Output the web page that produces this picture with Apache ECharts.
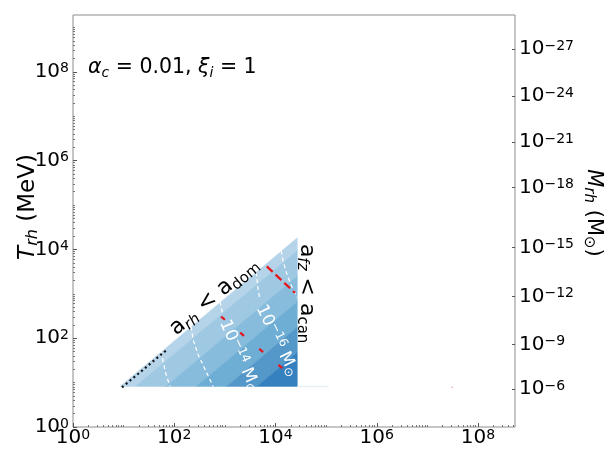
<!DOCTYPE html>
<html><head><meta charset="utf-8">
<script src="https://cdn.jsdelivr.net/npm/echarts@6/dist/echarts.min.js"></script>
<style>html,body{margin:0;padding:0;background:#fff}#c{width:607px;height:450px}</style>
</head><body><div id="c"></div>
<script>
// ---- axis ranges (log10 units) ----
const xLogMin = 0, xLogMax = 8.73;
const yLogMin = 0, yLogMax = 9.28;
const xMajorExp = [0, 2, 4, 6, 8];
const yMajorExp = [0, 2, 4, 6, 8];
// right axis: M_rh exponents and their positions on the T_rh axis (log10 MeV)
const mExp = [-27, -24, -21, -18, -15, -12, -9, -6];
const mPosLogT = [8.51, 7.45, 6.42, 5.39, 4.04, 2.94, 1.86, 0.85];

// ---- allowed region, filled bands (log10 units) ----
const regionBottomLogT = 0.915;
const regionRightLogX = 4.43;
const bandEdgeLogX = [0.93, 1.23, 1.83, 2.43, 3.03, 3.63, 4.43];   // where band edges meet the bottom edge
const bandEdgeLogT = [4.26, 3.973, 3.400, 2.826, 2.253, 1.680, 0.915]; // where band edges meet the right edge
const bandColors = ['#b6d4e9', '#9fc8e3', '#87bcdd', '#6eaed5', '#5398c9', '#3580be'];

// ---- mass contours (white dashed) ----
const contourA = [[4.111, 3.971], [4.150, 3.724], [4.229, 3.432], [4.328, 3.139], [4.427, 2.915]];
const contourB = [[3.617, 3.488], [3.656, 3.094], [3.686, 2.911]];
const contourC = [[2.905, 2.825], [2.945, 2.600], [2.955, 2.533]];
const contourD = [[2.332, 2.263], [2.372, 1.971], [2.470, 1.634], [2.609, 1.297], [2.767, 0.915]];
const contourE = [[1.739, 1.701], [1.779, 1.476], [1.838, 1.184], [1.917, 0.915]];
// red dashed lines
const redUpper = [[3.828, 3.618], [4.385, 3.020]];
const redLower = [[2.925, 2.488], [4.348, 1.117]];
// black dotted line
const blackDotted = [[0.968, 0.893], [1.838, 1.724]];
// faint extras
const faintLine = [[4.43, 0.915], [5.05, 0.915]];
const faintDot = [[7.49, 0.893]];

// ---- annotations: [logX, logT, rotationDeg, kind] ----
const annParams = [[0.296, 8.083, 0, 'params']];
const annDom = [[2.787, 2.937, 40, 'dom']];
const annCan = [[4.625, 3.004, -90, 'can']];
const annM16 = [[4.03, 1.95, -64, 'm16']];
const annM14 = [[3.29, 1.60, -66, 'm14']];

const FONT = 'DejaVu Sans';
function minorTicks(maxv) {
  const out = [];
  for (let n = 0; n <= Math.ceil(maxv); n++) {
    for (let k = 1; k <= 9; k++) {
      const v = n + Math.log10(k);
      if (v <= maxv && !(k === 1 && n % 2 === 0)) out.push(v);
    }
  }
  return out;
}
const supRich = {
  b: {fontFamily: FONT, fontSize: 20, color: '#000', lineHeight: 20, verticalAlign: 'bottom'},
  s: {fontFamily: FONT, fontSize: 14, color: '#000', lineHeight: 14, verticalAlign: 'top', padding: [0, 0, 8, 0]}
};
function expLabel(e) { return '{b|10}{s|' + String(e).replace('-', '\u2212') + '}'; }

function tok(size, col, lh, va, italic, pad) {
  const o = {fontFamily: FONT, fontSize: size, fill: col, color: col, lineHeight: lh, verticalAlign: va};
  if (italic) o.fontStyle = 'italic';
  if (pad) o.padding = pad;
  return o;
}
const annRich = {
  n: tok(22, '#000', 26, 'middle'),
  sub: tok(15, '#000', 15, 'bottom', false, [8, 0, 0, 0]),
  subi: tok(15, '#000', 15, 'bottom', true, [8, 0, 0, 0]),
  p: tok(20.5, '#000', 24, 'middle'),
  pi: tok(20.5, '#000', 24, 'middle', true),
  psub: tok(14, '#000', 14, 'bottom', true, [7, 0, 0, 0]),
  w: tok(17, '#fff', 20, 'middle'),
  wsup: tok(12, '#fff', 12, 'top', false, [0, 0, 7, 0]),
  wsub: tok(12, '#fff', 12, 'bottom', false, [6, 0, 0, 0])
};
const annTexts = {
  params: '{pi|\u03b1}{psub|c}{p| = 0.01, }{pi|\u03be}{psub|i}{p| = 1}',
  dom: '{n|a}{subi|rh}{n| < a}{sub|dom}',
  can: '{n|a}{subi|fz}{n| < a}{sub|can}',
  m16: '{w|10}{wsup|\u221216}{w| M}{wsub|\u2299}',
  m14: '{w|10}{wsup|\u221214}{w| M}{wsub|\u2299}'
};

function textSeries(data, align) {
  return {
    type: 'custom', coordinateSystem: 'cartesian2d', z: 10, silent: true,
    data: data,
    renderItem: function (params, api) {
      const p = api.coord([api.value(0), api.value(1)]);
      const item = data[params.dataIndex];
      return {
        type: 'text', x: p[0], y: p[1], rotation: item[2] * Math.PI / 180,
        style: {text: annTexts[item[3]], rich: annRich, align: align, verticalAlign: 'middle'}
      };
    }
  };
}
function lineSeries(data, color, width, type, z) {
  return {type: 'line', data: data, showSymbol: false, symbol: 'none', silent: true, z: z,
    lineStyle: {color: color, width: width, type: type}, animation: false};
}

const titleRichL = {
  t: tok(23, '#000', 26, 'middle'),
  ti: tok(23, '#000', 26, 'middle', true),
  tsub: tok(16, '#000', 16, 'bottom', true, [8, 0, 0, 0])
};
const titleRichR = {
  t: tok(21, '#000', 24, 'middle'),
  ti: tok(21, '#000', 24, 'middle', true),
  tsub: tok(15, '#000', 15, 'bottom', true, [7, 0, 0, 0]),
  tsub2: tok(15, '#000', 15, 'bottom', false, [7, 0, 0, 0])
};

const bandData = bandColors.map((c, i) => [i]);
const option = {
  animation: false,
  backgroundColor: '#fff',
  grid: {left: 73, right: 92, top: 15, bottom: 22, show: true, borderColor: '#8c8c8c', borderWidth: 1, backgroundColor: 'transparent'},
  xAxis: [
    {type: 'value', min: xLogMin, max: xLogMax, splitLine: {show: false},
     axisLine: {show: false},
     axisTick: {inside: true, length: 4, customValues: xMajorExp, lineStyle: {color: '#555'}},
     axisLabel: {customValues: xMajorExp, margin: 1, formatter: v => expLabel(Math.round(v)), rich: supRich}},
    {type: 'value', min: xLogMin, max: xLogMax, position: 'bottom', splitLine: {show: false},
     axisLine: {show: false}, axisLabel: {show: false},
     axisTick: {inside: true, length: 2, customValues: minorTicks(xLogMax), lineStyle: {color: '#777'}}}
  ],
  yAxis: [
    {type: 'value', min: yLogMin, max: yLogMax, splitLine: {show: false},
     axisLine: {show: false},
     axisTick: {inside: true, length: 4, customValues: yMajorExp, lineStyle: {color: '#555'}},
     axisLabel: {customValues: yMajorExp, margin: 4, formatter: v => expLabel(Math.round(v)), rich: supRich}},
    {type: 'value', min: yLogMin, max: yLogMax, position: 'left', splitLine: {show: false},
     axisLine: {show: false}, axisLabel: {show: false},
     axisTick: {inside: true, length: 2, customValues: minorTicks(yLogMax), lineStyle: {color: '#777'}}},
    {type: 'value', min: yLogMin, max: yLogMax, position: 'right', splitLine: {show: false},
     axisLine: {show: false},
     axisTick: {inside: true, length: 3, customValues: mPosLogT, lineStyle: {color: '#555'}},
     axisLabel: {customValues: mPosLogT, margin: 4, align: 'left',
       formatter: v => { let i = 0, best = 1e9; mPosLogT.forEach((p, j) => { if (Math.abs(p - v) < best) { best = Math.abs(p - v); i = j; } }); return expLabel(mExp[i]); },
       rich: supRich}}
  ],
  series: [
    {type: 'custom', coordinateSystem: 'cartesian2d', z: 1, silent: true, data: bandData,
     renderItem: function (params, api) {
       const k = params.dataIndex;
       const pts = [
         api.coord([bandEdgeLogX[k], regionBottomLogT]),
         api.coord([bandEdgeLogX[k + 1], regionBottomLogT]),
         api.coord([regionRightLogX, bandEdgeLogT[k + 1]]),
         api.coord([regionRightLogX, bandEdgeLogT[k]])
       ];
       return {type: 'polygon', shape: {points: pts}, style: {fill: bandColors[k], stroke: bandColors[k], lineWidth: 0.5}};
     }},
    lineSeries(contourA, '#ffffff', 1.2, [4, 3], 3),
    lineSeries(contourB, '#ffffff', 1.2, [4, 3], 3),
    lineSeries(contourC, '#ffffff', 1.2, [4, 3], 3),
    lineSeries(contourD, '#ffffff', 1.2, [4, 3], 3),
    lineSeries(contourE, '#ffffff', 1.2, [4, 3], 3),
    lineSeries(redUpper, '#e8141b', 2.2, [8, 4], 4),
    lineSeries(redLower, '#e8141b', 2.2, [5, 20], 4),
    lineSeries(blackDotted, '#111', 2.2, [2, 3], 4),
    lineSeries(faintLine, '#e3f1f3', 1.5, 'solid', 2),
    {type: 'scatter', data: faintDot, symbolSize: 2, itemStyle: {color: '#f4b4b4'}, silent: true, z: 2},
    textSeries(annParams, 'left'),
    textSeries(annDom, 'center'),
    textSeries(annCan, 'center'),
    textSeries(annM16, 'center'),
    textSeries(annM14, 'center')
  ],
  graphic: [
    {type: 'text', x: 28, y: 207, rotation: Math.PI / 2,
     style: {text: '{ti|T}{tsub|rh}{t| (MeV)}', align: 'center', verticalAlign: 'middle', rich: titleRichL}},
    {type: 'text', x: 593, y: 213, rotation: -Math.PI / 2,
     style: {text: '{ti|M}{tsub|rh}{t| (M}{tsub2|\u2299}{t|)}', align: 'center', verticalAlign: 'middle', rich: titleRichR}}
  ]
};
const chart = echarts.init(document.getElementById('c'), null, {renderer: 'canvas'});
chart.setOption(option);
</script></body></html>
